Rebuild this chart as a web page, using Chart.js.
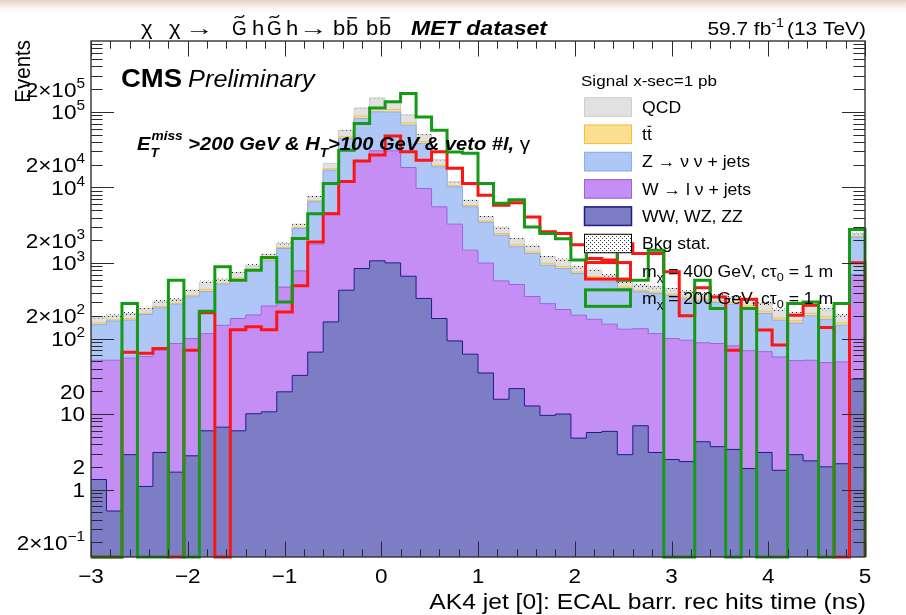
<!DOCTYPE html>
<html>
<head>
<meta charset="utf-8">
<title>AK4 jet [0]: ECAL barrel rec hits time</title>
<script src="https://cdn.jsdelivr.net/npm/chart.js@4.4.1/dist/chart.umd.min.js"></script>
<style>
  html, body { margin: 0; padding: 0; background: #fff; }
  canvas { display: block; }
</style>
</head>
<body>
<canvas id="plot" width="906" height="615"></canvas>
<script>
// ---- binning: 50 bins of 0.16 ns on [-3, 5] ns ----
const X_MIN = -3, X_MAX = 5, N_BINS = 50;
const Y_MIN = 0.128, Y_MAX = 8.7e5;

// ---- background processes (events per bin), bottom of the stack first ----
const dibosonEvents = [1.36, 0.52, 2.9, 1.1, 3.1, 1.7, 2.8, 6.0, 6.7, 6.0,
  10.1, 10.7, 19.7, 32.5, 66, 166, 436, 845, 1069, 1005,
  668, 339, 184, 93, 62, 35, 15.7, 21.7, 12.8, 9.6,
  10.0, 4.8, 5.7, 5.9, 2.9, 7.0, 3.1, 2.5, 2.35, 4.3,
  3.7, 3.4, 1.9, 3.1, 1.8, 2.9, 2.4, 2.0, 2.2, 29];
const wJetsEvents = [50.2, 51.1, 52.1, 56.9, 66.9, 84.3, 97.2, 110, 143, 178,
  195, 259, 460, 755, 1708, 4444, 11460, 21655, 29530, 29600,
  17730, 9361, 5366, 3177, 1418, 965, 564, 498, 347, 280,
  232, 199, 174, 149, 130, 128, 113, 97.5, 92.6, 83.7,
  82.3, 76.6, 67.1, 63.9, 55.2, 48.1, 49.1, 46, 46.8, 671];
const zJetsEvents = [101, 119, 120, 150, 185, 199, 256, 304, 375, 416,
  598, 799, 1077, 2073, 4686, 12290, 32600, 59500, 69900, 69400,
  48500, 28600, 13250, 6930, 4070, 2460, 1755, 1120, 977, 645,
  603, 522, 444, 408, 326, 280, 278, 270, 240, 227,
  214, 205, 189, 148, 118, 109, 149, 132, 101, 1500];
const ttbarEvents = [8, 6, 8, 8, 11, 9, 16, 28, 15, 30,
  26, 48, 51, 81, 228, 780, 2500, 6200, 10500, 7600,
  4800, 2340, 900, 340, 248, 132, 119, 92, 69, 57,
  51, 33, 36, 25, 21, 19, 18, 18, 16, 16,
  15, 14, 13, 15, 12, 12, 15, 14, 11, 50];
const qcdEvents = [33, 23, 31, 34, 46, 34, 64, 112, 60, 118,
  106, 192, 203, 325, 912, 3120, 10000, 24800, 42000, 30400,
  19300, 9360, 3600, 1360, 992, 528, 476, 368, 274, 228,
  204, 130, 143, 102, 83, 74, 71, 71, 64, 63,
  60, 57, 51, 61, 50, 47, 61, 56, 43, 200];
// relative MC statistical uncertainty of the summed background
const bkgStatRel = [0.05, 0.05, 0.05, 0.05, 0.04, 0.04, 0.04, 0.04, 0.04, 0.035,
  0.035, 0.03, 0.03, 0.025, 0.02, 0.015, 0.012, 0.01, 0.01, 0.01,
  0.01, 0.012, 0.015, 0.02, 0.025, 0.03, 0.03, 0.035, 0.035, 0.04,
  0.04, 0.045, 0.045, 0.045, 0.05, 0.05, 0.05, 0.05, 0.05, 0.05,
  0.05, 0.05, 0.05, 0.05, 0.05, 0.05, 0.05, 0.05, 0.05, 0.03];

// ---- signal samples (x-sec = 1 pb) ----
const sigM400Events = [0, 0, 66, 64, 74, 0, 70, 220, 0, 131,
  143, 131, 225, 500, 1900, 4500, 12000, 22500, 27000, 47900,
  29700, 23000, 29700, 18000, 11300, 7900, 5800, 6300, 4080, 2590,
  2460, 1750, 1150, 1100, 1800, 1340, 1340, 764, 200, 470,
  356, 70, 330, 130, 82, 204, 276, 140, 0, 1005];
const sigM200Events = [0, 0, 291, 0, 0, 592, 0, 230, 889, 592,
  803, 1180, 305, 2110, 4500, 11300, 31000, 70500, 113000, 136000,
  176000, 86000, 57400, 29600, 28500, 11300, 6200, 6900, 3000, 2460,
  2100, 1100, 1600, 1650, 592, 592, 1480, 0, 0, 592,
  250, 0, 250, 0, 0, 291, 305, 0, 291, 2780];

// ---- axis tick labels ----
const xTickValues = [-3, -2, -1, 0, 1, 2, 3, 4, 5];
const xTickLabels = ['\u22123', '\u22122', '\u22121', '0', '1', '2', '3', '4', '5'];
const yTickValues = [0.2, 1, 2, 10, 20, 100, 200, 1e3, 2e3, 1e4, 2e4, 1e5, 2e5];
const yTickLabels = [['2\u00d710', '\u22121'], ['1', ''], ['2', ''], ['10', ''], ['20', ''],
  ['10', '2'], ['2\u00d710', '2'], ['10', '3'], ['2\u00d710', '3'], ['10', '4'],
  ['2\u00d710', '4'], ['10', '5'], ['2\u00d710', '5']];

// ---------------------------------------------------------------------------
const FAMILY = '"Liberation Sans", Arial, Helvetica, sans-serif';
const SX = 1.1;   // horizontal text stretch of the canvas style
const COL = {
  diboson: { fill: '#7d7dc6', line: '#1c1c84' },
  wjets:   { fill: '#c48ef5', line: '#9d62df' },
  zjets:   { fill: '#aec7f7', line: '#8aaee9' },
  ttbar:   { fill: '#fde08f', line: '#f0c04e' },
  qcd:     { fill: '#e1e1e1', line: '#cdcdcd' },
  m400: '#ff1414',
  m200: '#169a16'
};

const binWidth = (X_MAX - X_MIN) / N_BINS;
const binEdges = Array.from({ length: N_BINS + 1 }, (_, i) => X_MIN + i * binWidth);

// histogram outline as points on the left bin edges (stepped line)
function histPoints(values, closed) {
  const pts = values.map((v, i) => ({ x: binEdges[i], y: v > 0 ? v : Y_MIN }));
  pts.push({ x: X_MAX, y: pts[pts.length - 1].y });
  if (closed) {
    pts.unshift({ x: X_MIN, y: Y_MIN });
    pts.push({ x: X_MAX, y: Y_MIN });
  }
  return pts;
}

const bkgTotal = dibosonEvents.map((v, i) => v + wJetsEvents[i] + zJetsEvents[i] + ttbarEvents[i] + qcdEvents[i]);
const statLow = bkgTotal.map((v, i) => v * (1 - bkgStatRel[i]));
const statHigh = bkgTotal.map((v, i) => v * (1 + bkgStatRel[i]));

const canvas = document.getElementById('plot');
const ctx0 = canvas.getContext('2d');
const dots = (() => {
  const c = document.createElement('canvas');
  c.width = 4; c.height = 4;
  const g = c.getContext('2d');
  g.fillStyle = 'rgba(30,30,30,0.9)';
  g.fillRect(0, 0, 1, 1);
  g.fillRect(2, 2, 1, 1);
  return ctx0.createPattern(c, 'repeat');
})();

function bkgSet(label, values, col, fill, order) {
  return {
    label, data: histPoints(values), stack: 'bkg', fill,
    backgroundColor: col.fill, borderColor: col.line, borderWidth: 1,
    stepped: true, pointRadius: 0, pointHoverRadius: 0, order
  };
}

const datasets = [
  bkgSet('WW, WZ, ZZ', dibosonEvents, COL.diboson, 'start', 3),
  bkgSet('W \u2192 l \u03bd + jets', wJetsEvents, COL.wjets, '-1', 4),
  bkgSet('Z \u2192 \u03bd \u03bd + jets', zJetsEvents, COL.zjets, '-1', 5),
  bkgSet('tt', ttbarEvents, COL.ttbar, '-1', 6),
  bkgSet('QCD', qcdEvents, COL.qcd, '-1', 7),
  { label: 'stat-low', data: histPoints(statLow), stack: 'statLow', fill: false,
    borderWidth: 0, borderColor: 'rgba(0,0,0,0)', stepped: true, pointRadius: 0, order: 2 },
  { label: 'Bkg stat.', data: histPoints(statHigh), stack: 'statHigh', fill: '-1',
    backgroundColor: dots, borderWidth: 0, borderColor: 'rgba(0,0,0,0)', stepped: true, pointRadius: 0, order: 2 },
  { label: 'm400', data: histPoints(sigM400Events, true), stack: 's400', fill: false,
    borderColor: COL.m400, borderWidth: 3, stepped: true, pointRadius: 0, order: 1, clip: 3 },
  { label: 'm200', data: histPoints(sigM200Events, true), stack: 's200', fill: false,
    borderColor: COL.m200, borderWidth: 3, stepped: true, pointRadius: 0, order: 0, clip: 3 }
];

// ---- text helpers ----
function fnt(size, style) { return (style ? style + ' ' : '') + size + 'px ' + FAMILY; }

function drawRich(ctx, x, y, parts, align) {
  const widths = parts.map(p => {
    ctx.font = p.f;
    return ctx.measureText(p.t).width * SX * (p.sx || 1) + (p.gap || 0);
  });
  const total = widths.reduce((a, b) => a + b, 0);
  let cx = align === 'right' ? x - total : align === 'center' ? x - total / 2 : x;
  parts.forEach((p, i) => {
    ctx.font = p.f;
    const yy = y + (p.dy || 0);
    const w = ctx.measureText(p.t).width * SX * (p.sx || 1);
    ctx.save();
    ctx.translate(cx, yy);
    ctx.scale(SX * (p.sx || 1), 1);
    ctx.fillText(p.t, 0, 0);
    ctx.restore();
    if (p.deco) {
      const size = parseFloat(p.f.match(/([\d.]+)px/)[1]);
      const top = yy - size * (p.decoY || 0.8);
      ctx.save();
      ctx.strokeStyle = ctx.fillStyle;
      ctx.lineWidth = Math.max(1, size / 15);
      ctx.beginPath();
      if (p.deco === 'bar') {
        ctx.moveTo(cx + w * 0.12, top);
        ctx.lineTo(cx + w * 0.88, top);
      } else {
        const x0 = cx + w * 0.18, x1 = cx + w * 0.82, h = size * 0.07;
        ctx.moveTo(x0, top + h);
        ctx.bezierCurveTo(x0 + (x1 - x0) * 0.35, top - h * 2.2, x0 + (x1 - x0) * 0.65, top + h * 3.2, x1, top - h);
      }
      ctx.stroke();
      ctx.restore();
    }
    cx += widths[i];
  });
  return total;
}

const legendRows = [
  { ds: 4, parts: [{ t: 'QCD' }] },
  { ds: 3, parts: [{ t: 't' }, { t: 't', deco: 'bar', decoY: 0.86 }] },
  { ds: 2, parts: [{ t: 'Z \u2192 \u03bd \u03bd + jets' }] },
  { ds: 1, parts: [{ t: 'W \u2192 l \u03bd + jets' }] },
  { ds: 0, parts: [{ t: 'WW, WZ, ZZ' }] },
  { ds: 6, parts: [{ t: 'Bkg stat.' }] },
  { ds: 7, parts: [{ t: 'm' }, { t: '\u03c7', sub: true }, { t: ' = 400 GeV, c\u03c4' }, { t: '0', sub: true }, { t: ' = 1 m' }] },
  { ds: 8, parts: [{ t: 'm' }, { t: '\u03c7', sub: true }, { t: ' = 200 GeV, c\u03c4' }, { t: '0', sub: true }, { t: ' = 1 m' }] }
];

const decorPlugin = {
  id: 'decor',
  beforeDraw(chart) {
    const ctx = chart.ctx;
    ctx.save();
    ctx.fillStyle = '#fff';
    ctx.fillRect(0, 0, chart.width, chart.height);
    const g = ctx.createLinearGradient(0, 0, 0, 16);
    g.addColorStop(0, 'rgba(222,203,186,0.85)');
    g.addColorStop(1, 'rgba(255,255,255,0)');
    ctx.fillStyle = g;
    ctx.fillRect(0, 0, chart.width, 16);
    ctx.restore();
  },
  afterDatasetsDraw(chart) {
    const ctx = chart.ctx, a = chart.chartArea;
    const xs = chart.scales.x, ys = chart.scales.y;
    ctx.save();
    ctx.strokeStyle = '#2a2a2a';
    ctx.lineWidth = 1;
    ctx.beginPath();
    // x ticks (major every 1 ns, minor every 0.2 ns), bottom and top
    for (let i = 0; i <= 40; i++) {
      const px = Math.round(xs.getPixelForValue(X_MIN + i * 0.2)) + 0.5;
      const len = i % 5 === 0 ? 15.5 : 7.7;
      ctx.moveTo(px, a.bottom); ctx.lineTo(px, a.bottom - len);
      ctx.moveTo(px, a.top); ctx.lineTo(px, a.top + len);
    }
    // log y ticks, left and right
    for (let e = -1; e <= 6; e++) {
      for (let m = 1; m <= 9; m++) {
        const v = m * Math.pow(10, e);
        if (v < Y_MIN || v > Y_MAX) continue;
        const py = Math.round(ys.getPixelForValue(v)) + 0.5;
        const len = m === 1 ? 23 : 11.6;
        ctx.moveTo(a.left, py); ctx.lineTo(a.left + len, py);
        ctx.moveTo(a.right, py); ctx.lineTo(a.right - len, py);
      }
    }
    ctx.stroke();
    ctx.lineWidth = 1.4;
    ctx.strokeStyle = '#333';
    ctx.strokeRect(a.left, a.top, a.right - a.left, a.bottom - a.top);
    ctx.restore();
  },
  afterDraw(chart) {
    const ctx = chart.ctx;
    const xs = chart.scales.x, ys = chart.scales.y;
    ctx.save();
    ctx.fillStyle = '#000';
    ctx.textBaseline = 'alphabetic';

    // x tick labels
    xTickValues.forEach((v, i) => {
      drawRich(ctx, xs.getPixelForValue(v), 583, [{ t: xTickLabels[i], f: fnt(20.5) }], 'center');
    });
    // y tick labels with exponents
    yTickValues.forEach((v, i) => {
      const py = ys.getPixelForValue(v);
      const [base, ex] = yTickLabels[i];
      const parts = [{ t: base, f: fnt(20.5) }];
      if (ex) parts.push({ t: ex, f: fnt(14), dy: -9 });
      drawRich(ctx, 85, py + 7.3, parts, 'right');
    });
    // axis titles
    drawRich(ctx, 866, 609, [{ t: 'AK4 jet [0]: ECAL barr. rec hits time (ns)', f: fnt(22.4) }], 'right');
    ctx.save();
    ctx.translate(30, 40);
    ctx.scale(SX, 1);
    ctx.rotate(-Math.PI / 2);
    ctx.font = fnt(20.5);
    ctx.textAlign = 'right';
    ctx.fillText('Events', 0, 0);
    ctx.restore();

    // header line
    const hf = fnt(20);
    const head = [['\u03c7', 141], ['\u03c7', 169], ['\u2192', 185, 'arrow'], ['G', 232, 'tilde'], ['h', 252],
      ['G', 267, 'tilde'], ['h', 286], ['\u2192', 299, 'arrow'], ['b', 333], ['b', 346, 'bar'], ['b', 366], ['b', 379, 'bar']];
    head.forEach(([t, x, d]) => {
      const p = { t, f: hf };
      if (d === 'arrow') p.sx = 1.3;
      if (d === 'tilde') { p.deco = 'tilde'; p.decoY = 0.92; p.sx = 0.86; }
      if (d === 'bar') { p.deco = 'bar'; p.decoY = 0.86; }
      drawRich(ctx, x, 35, [p], 'left');
    });
    drawRich(ctx, 411, 35, [{ t: 'MET dataset', f: fnt(21, 'italic bold') }], 'left');
    drawRich(ctx, 866, 35, [{ t: '59.7 fb', f: fnt(19) }, { t: '-1', f: fnt(13), dy: -8, gap: 3 },
      { t: '(13 TeV)', f: fnt(19) }], 'right');

    // CMS label
    drawRich(ctx, 121, 87, [{ t: 'CMS', f: fnt(25, 'bold'), gap: 6 }, { t: 'Preliminary', f: fnt(23, 'italic') }], 'left');

    // selection label
    const bi = fnt(18.3, 'italic bold'), bis = fnt(12.5, 'italic bold');
    let x = 137;
    x += drawRich(ctx, x, 150, [{ t: 'E', f: bi }], 'left');
    const wm = drawRich(ctx, x + 1, 140, [{ t: 'miss', f: bis }], 'left');
    drawRich(ctx, x, 157, [{ t: 'T', f: bis }], 'left');
    x += wm + 1;
    drawRich(ctx, x, 150, [
      { t: ' >200 GeV & H', f: bi },
      { t: 'T', f: bis, dy: 7 },
      { t: '>100 GeV & veto #l, ', f: bi },
      { t: '\u03b3', f: fnt(19) }
    ], 'left');

    // legend
    drawRich(ctx, 581, 86, [{ t: 'Signal x-sec=1 pb', f: fnt(15.5) }], 'left');
    legendRows.forEach((row, i) => {
      const cy = 107 + i * 27.3;
      const ds = chart.data.datasets[row.ds];
      const bx = 584, bw = 48, bh = 19.5, by = cy - bh / 2;
      ctx.save();
      if (row.ds >= 7) {
        ctx.strokeStyle = ds.borderColor;
        ctx.lineWidth = 3;
        ctx.strokeRect(bx + 1.5, by + 1.5, bw - 3, bh - 3);
      } else {
        ctx.fillStyle = '#fff';
        ctx.fillRect(bx, by, bw, bh);
        ctx.fillStyle = ds.backgroundColor;
        ctx.fillRect(bx, by, bw, bh);
        ctx.strokeStyle = row.ds === 6 ? '#000' : ds.borderColor;
        ctx.lineWidth = row.ds === 0 ? 1.5 : 1;
        ctx.strokeRect(bx + 0.5, by + 0.5, bw - 1, bh - 1);
      }
      ctx.restore();
      const parts = row.parts.map(p => p.sub
        ? { t: p.t, f: fnt(11.5), dy: 4 }
        : Object.assign({ f: fnt(16) }, p));
      drawRich(ctx, 642, cy + 5.8, parts, 'left');
    });
    ctx.restore();
  }
};

new Chart(canvas, {
  type: 'line',
  data: { datasets },
  options: {
    responsive: false,
    devicePixelRatio: 1,
    animation: false,
    events: [],
    layout: { padding: { left: 91, right: 41, top: 41, bottom: 58 } },
    plugins: { legend: { display: false }, tooltip: { enabled: false } },
    scales: {
      x: { type: 'linear', min: X_MIN, max: X_MAX, display: false },
      y: { type: 'logarithmic', min: Y_MIN, max: Y_MAX, display: false, stacked: true }
    }
  },
  plugins: [decorPlugin]
});
</script>
</body>
</html>
